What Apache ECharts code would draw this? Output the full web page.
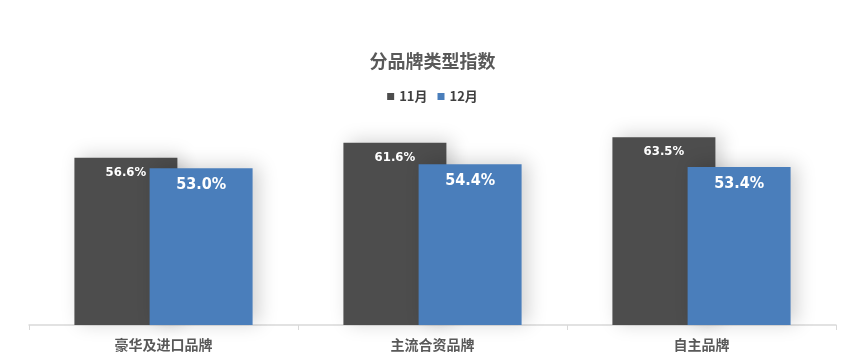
<!DOCTYPE html>
<html><head><meta charset="utf-8">
<script src="https://cdn.jsdelivr.net/npm/echarts@6/dist/echarts.min.js"></script>
<style>html,body{margin:0;padding:0;background:#fff}#c{width:865px;height:360px}</style>
</head><body><div id="c"></div>
<script>
const categories = ['豪华及进口品牌', '主流合资品牌', '自主品牌'];
const seriesNames = ['11月', '12月'];
const nov = [56.6, 61.6, 63.5];
const dec = [53.0, 54.4, 53.4];

const narrow = '"DejaVu Sans Condensed", "Liberation Sans Narrow", "Roboto Condensed", sans-serif';
const chart = echarts.init(document.getElementById('c'));
const shadow = {shadowBlur: 18, shadowColor: 'rgba(0,0,0,0.18)', shadowOffsetX: 6, shadowOffsetY: -2};
chart.setOption({
  animation: false,
  title: {text: '分品牌类型指数', left: 'center', top: 47,
    textStyle: {fontFamily: 'Noto Sans CJK SC', fontSize: 18, fontWeight: 'bold', color: '#595959'}},
  legend: {top: 85, left: 'center', itemWidth: 7, itemHeight: 7, itemGap: 10, icon: 'rect',
    textStyle: {fontFamily: 'Noto Sans CJK SC', fontSize: 13, fontWeight: 'bold', color: '#404040'},
    data: seriesNames},
  grid: {left: 29, right: 29, top: 118, bottom: 35},
  xAxis: {type: 'category', data: categories,
    axisLine: {lineStyle: {color: '#d9d9d9', width: 1.5}},
    axisTick: {show: true, length: 5, lineStyle: {color: '#d9d9d9'}},
    axisLabel: {margin: 13, fontFamily: 'Noto Sans CJK SC', fontSize: 14, fontWeight: 'bold', color: '#595959'}},
  yAxis: {type: 'value', min: 0, max: 70, show: false, splitLine: {show: false}},
  series: [
    {name: seriesNames[0], type: 'bar', data: nov, barWidth: 103, barGap: '-27%',
      itemStyle: Object.assign({color: '#4d4d4d'}, shadow),
      label: {show: true, position: 'insideTop', distance: 8, formatter: p => p.value.toFixed(1) + '%',
        fontFamily: narrow, fontWeight: 'bold', fontSize: 13, color: '#fff'}},
    {name: seriesNames[1], type: 'bar', data: dec, barWidth: 103,
      itemStyle: Object.assign({color: '#4a7ebb'}, shadow),
      label: {show: true, position: 'insideTop', distance: 9, formatter: p => p.value.toFixed(1) + '%',
        fontFamily: narrow, fontWeight: 'bold', fontSize: 16, color: '#fff'}}
  ]
});
</script></body></html>
